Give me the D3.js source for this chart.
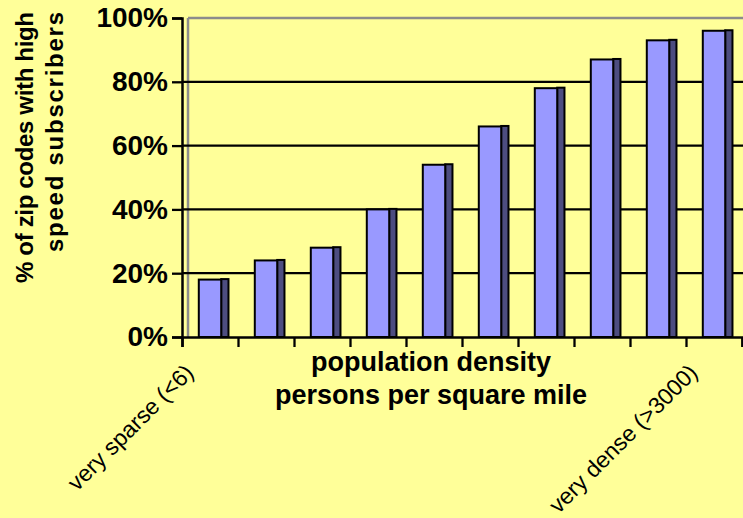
<!DOCTYPE html>
<html>
<head>
<meta charset="utf-8">
<script src="https://cdn.jsdelivr.net/npm/d3@7"></script>
<style>
  html, body { margin: 0; padding: 0; background: #ffff99; }
  svg { display: block; font-family: "Liberation Sans", Arial, sans-serif; }
</style>
</head>
<body>
<script>
//chart data
var categories = ["very sparse (<6)", "", "", "", "", "", "", "", "", "very dense (>3000)"];
var shareValues = [18, 24, 28, 40, 54, 66, 78, 87, 93, 96];   //% of zip codes
var yTicks = [0, 20, 40, 60, 80, 100];
var yTickLabels = ["0%", "20%", "40%", "60%", "80%", "100%"];
var yTitle = ["% of zip codes with high", "speed subscribers"];
var xTitle = ["population density", "persons per square mile"];

var width = 743, height = 518;
var plotLeft = 182, plotRight = 742, plotTop = 18, plotBottom = 337;
var wallShift = 6;   //the grey back wall sits a bit to the right
var yTitleLen = [271, 240];   //measured length of each title line

var svg = d3.select("body").append("svg")
    .attr("width", width)
    .attr("height", height);

svg.append("rect")
    .attr("width", width)
    .attr("height", height)
    .attr("fill", "#ffff99");

//scales
var x = d3.scaleBand()
    .domain(d3.range(categories.length))
    .range([plotLeft, plotRight])
    .paddingInner(0);

var xEdges = d3.scaleLinear()
    .domain([0, categories.length])
    .range([plotLeft, plotRight]);

var y = d3.scaleLinear()
    .domain([0, 100])
    .range([plotBottom, plotTop]);

//back wall: grey left edge and top edge
svg.append("line")
    .attr("x1", plotLeft + wallShift).attr("x2", plotLeft + wallShift)
    .attr("y1", y(100)).attr("y2", plotBottom)
    .attr("stroke", "#8c8c8c").attr("stroke-width", 2.5);
svg.append("line")
    .attr("x1", plotLeft + wallShift).attr("x2", width)
    .attr("y1", y(100)).attr("y2", y(100))
    .attr("stroke", "#8c8c8c").attr("stroke-width", 2.5);

//gridlines (the 100% one is the grey wall top)
svg.selectAll(".grid")
    .data(yTicks.filter(function(d){ return d > 0 && d < 100; }))
    .enter()
    .append("line")
    .attr("class", "grid")
    .attr("x1", plotLeft).attr("x2", width)
    .attr("y1", function(d){ return y(d); })
    .attr("y2", function(d){ return y(d); })
    .attr("stroke", "#000").attr("stroke-width", 2.3);

//bars: front face + dark side face
var faceW = x.bandwidth() * 0.4,
    sideW = x.bandwidth() * 0.13;

var bars = svg.selectAll(".bar")
    .data(shareValues)
    .enter()
    .append("g")
    .attr("class", "bar");

bars.append("rect")
    .attr("x", function(d, i){ return x(i) + x.bandwidth() / 2 + faceW / 2; })
    .attr("y", function(d){ return y(d) - 0.5; })
    .attr("width", sideW)
    .attr("height", function(d){ return plotBottom - y(d) + 0.5; })
    .attr("fill", "#4d4d80")
    .attr("stroke", "#000").attr("stroke-width", 2);

bars.append("rect")
    .attr("x", function(d, i){ return x(i) + x.bandwidth() / 2 - faceW / 2; })
    .attr("y", function(d){ return y(d); })
    .attr("width", faceW)
    .attr("height", function(d){ return plotBottom - y(d); })
    .attr("fill", "#9999ff")
    .attr("stroke", "#000").attr("stroke-width", 2);

//y axis
var yAxis = d3.axisLeft(y)
    .tickValues(yTicks)
    .tickSize(10)
    .tickPadding(4)
    .tickFormat(function(d, i){ return yTickLabels[i]; });

var yG = svg.append("g")
    .attr("transform", "translate(" + plotLeft + ",0)")
    .call(yAxis);
yG.select(".domain").attr("stroke", "#000").attr("stroke-width", 2.5);
yG.selectAll(".tick line").attr("stroke", "#000").attr("stroke-width", 2.3);
yG.selectAll(".tick text")
    .attr("fill", "#000")
    .style("font-family", "'Liberation Sans', Arial, sans-serif")
    .style("font-size", "28px")
    .style("font-weight", "bold");

//x axis, ticks sit on the category edges
var xAxis = d3.axisBottom(xEdges)
    .tickValues(d3.range(categories.length + 1))
    .tickSize(10)
    .tickFormat("");

var xG = svg.append("g")
    .attr("transform", "translate(0," + plotBottom + ")")
    .call(xAxis);
xG.select(".domain").attr("stroke", "#000").attr("stroke-width", 2.5);
xG.selectAll(".tick line").attr("stroke", "#000").attr("stroke-width", 2.3);

//rotated category labels
svg.selectAll(".catLabel")
    .data(categories)
    .enter()
    .append("text")
    .attr("class", "catLabel")
    .attr("transform", function(d, i){
        return "translate(" + (x(i) + x.bandwidth() / 2 - 15) + ",374) rotate(-45)";
    })
    .attr("text-anchor", "end")
    .style("font-size", "23px")
    .attr("fill", "#000")
    .text(function(d){ return d; });

//x axis title, centred under the middle of the page rather than the plot
var xTitleX = 431;
svg.append("text")
    .attr("x", xTitleX)
    .attr("y", 371)
    .attr("text-anchor", "middle")
    .style("font-size", "27px")
    .style("font-weight", "bold")
    .selectAll("tspan")
    .data(xTitle)
    .enter()
    .append("tspan")
    .attr("x", xTitleX)
    .attr("dy", function(d, i){ return i === 0 ? 0 : 33; })
    .text(function(d){ return d; });

//y axis title, two rotated lines
svg.selectAll(".yTitle")
    .data(yTitle)
    .enter()
    .append("text")
    .attr("class", "yTitle")
    .attr("transform", function(d, i){
        return "translate(" + (33 + i * 30) + ",12) rotate(-90)";
    })
    .attr("text-anchor", "end")
    .attr("textLength", function(d, i){ return yTitleLen[i]; })
    .attr("lengthAdjust", "spacing")
    .style("font-size", "24px")
    .style("font-weight", "bold")
    .text(function(d){ return d; });
</script>
</body>
</html>
